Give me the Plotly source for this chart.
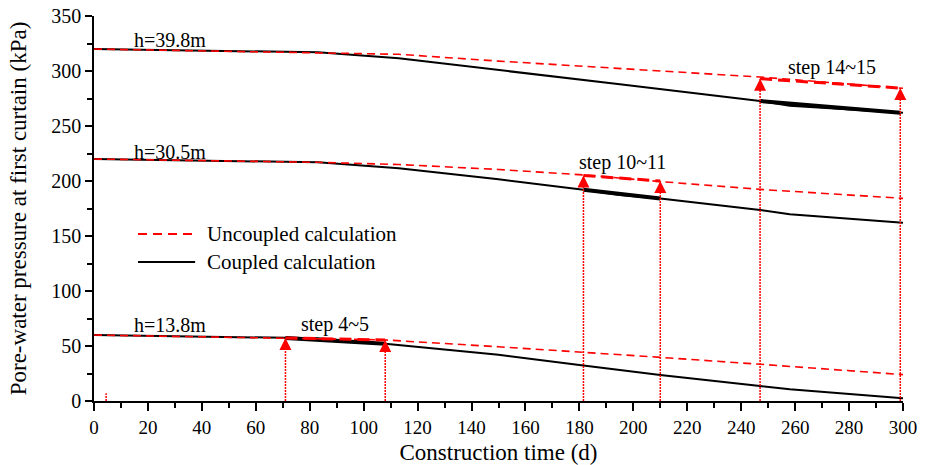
import plotly.graph_objects as go

# ---------------- data ----------------
# h = 39.8 m
t_top_unc = [0, 40, 83, 113, 150, 190, 247, 300]
p_top_unc = [320, 318.5, 317, 315.2, 309, 303.3, 294.5, 284.3]
t_top_cpl = [0, 40, 83, 113, 150, 195, 247, 258, 300]
p_top_cpl = [320, 318.5, 317, 311.5, 301, 288, 272.7, 268.5, 262]

# h = 30.5 m
t_mid_unc = [0, 40, 83, 113, 150, 181.5, 210, 247, 300]
p_mid_unc = [220, 218.5, 217, 215, 210.5, 205.5, 199.5, 192.4, 184.2]
t_mid_cpl = [0, 40, 83, 113, 150, 181.5, 195, 210, 247, 258, 300]
p_mid_cpl = [220, 218.5, 217, 211.5, 201.5, 192, 187.3, 184, 173.6, 169.7, 162]

# h = 13.8 m
t_bot_unc = [0, 40, 71, 83, 108, 150, 180, 210, 247, 300]
p_bot_unc = [60, 58.5, 57.3, 57, 55.5, 49.3, 44.8, 39.7, 33.4, 24]
t_bot_cpl = [0, 40, 71, 83, 108, 150, 180, 195, 210, 247, 258, 300]
p_bot_cpl = [60, 58.5, 57.3, 57, 52, 42, 32.7, 28.2, 23.6, 13.6, 10.6, 2.5]

# highlighted construction steps
step_labels = ["step 4~5", "step 10~11", "step 14~15"]
step_t = [[71, 108], [181.5, 210], [247, 299]]
step_unc = [[57.3, 55.5], [205, 200], [293, 284.5]]
step_cpl = [[57.3, 52], [192, 184], [272.7, 262]]
step_label_t = [89.4, 196, 273.6]
step_label_p = [70, 217, 303]

# small mark near the start
mark_t = [4.5]
mark_p = [7]

# depth labels
h_labels = ["h=39.8m", "h=30.5m", "h=13.8m"]
h_label_t = [28.2, 28.2, 28.2]
h_label_p = [328, 226, 69]

x_ticks = list(range(0, 301, 20))
y_ticks = list(range(0, 351, 50))

RED = "#ff0000"
FONT = "Liberation Serif"

fig = go.Figure()

# coupled (black, solid)
for t, p in [(t_top_cpl, p_top_cpl), (t_mid_cpl, p_mid_cpl), (t_bot_cpl, p_bot_cpl)]:
    fig.add_trace(go.Scatter(x=t, y=p, mode="lines",
                             line=dict(color="black", width=2),
                             showlegend=False, hoverinfo="skip"))
# thick coupled segments
for t, p in zip(step_t, step_cpl):
    fig.add_trace(go.Scatter(x=t, y=p, mode="lines",
                             line=dict(color="black", width=4),
                             showlegend=False, hoverinfo="skip"))
# uncoupled (red, dashed)
for t, p in [(t_top_unc, p_top_unc), (t_mid_unc, p_mid_unc), (t_bot_unc, p_bot_unc)]:
    fig.add_trace(go.Scatter(x=t, y=p, mode="lines",
                             line=dict(color=RED, width=1.6, dash="8px,5px"),
                             showlegend=False, hoverinfo="skip"))
# thick uncoupled segments
for t, p in zip(step_t, step_unc):
    fig.add_trace(go.Scatter(x=t, y=p, mode="lines",
                             line=dict(color=RED, width=3, dash="12px,6px"),
                             showlegend=False, hoverinfo="skip"))

# vertical dotted arrows from the time axis up to the uncoupled curve
for t, p in zip(step_t, step_unc):
    for ti, pi in zip(t, p):
        fig.add_trace(go.Scatter(x=[ti, ti], y=[0, pi], mode="lines",
                                 line=dict(color=RED, width=1.5, dash="2px,1px"),
                                 showlegend=False, hoverinfo="skip",
                                 cliponaxis=False))
    fig.add_trace(go.Scatter(x=t, y=p, mode="markers",
                             marker=dict(symbol="arrow-up", size=12, color=RED,
                                         line=dict(width=0)),
                             showlegend=False, hoverinfo="skip",
                             cliponaxis=False))
for ti, pi in zip(mark_t, mark_p):
    fig.add_trace(go.Scatter(x=[ti, ti], y=[0, pi], mode="lines",
                             line=dict(color=RED, width=1.5, dash="2px,1px"),
                             showlegend=False, hoverinfo="skip"))

annotations = []
for txt, x, y in zip(h_labels, h_label_t, h_label_p):
    annotations.append(dict(x=x, y=y, xref="x", yref="y", text=txt, showarrow=False,
                            font=dict(family=FONT, size=20, color="black")))
for txt, x, y in zip(step_labels, step_label_t, step_label_p):
    annotations.append(dict(x=x, y=y, xref="x", yref="y", text=txt, showarrow=False,
                            font=dict(family=FONT, size=20, color="black")))

# manual legend
leg_x0, leg_x1, leg_tx = 0.0544, 0.122, 0.137
leg_y = [0.4338, 0.3610]
legend_names = ["Uncoupled calculation", "Coupled calculation"]
shapes = [
    dict(type="line", xref="paper", yref="paper", x0=leg_x0, x1=leg_x1,
         y0=leg_y[0], y1=leg_y[0], line=dict(color=RED, width=2, dash="9px,6px")),
    dict(type="line", xref="paper", yref="paper", x0=leg_x0, x1=leg_x1 + 0.003,
         y0=leg_y[1], y1=leg_y[1], line=dict(color="black", width=2)),
]
for name, y in zip(legend_names, leg_y):
    annotations.append(dict(x=leg_tx, y=y, xref="paper", yref="paper", text=name,
                            showarrow=False, xanchor="left", yanchor="middle",
                            font=dict(family=FONT, size=21, color="black")))

axis_common = dict(
    showline=True, linecolor="black", linewidth=1.5,
    ticks="outside", tickcolor="black", tickwidth=1.5,
    showgrid=False, zeroline=False, mirror=False, automargin=False,
)

fig.update_layout(
    width=932, height=465,
    margin=dict(l=94, r=29, t=16, b=64, pad=0),
    paper_bgcolor="white", plot_bgcolor="white",
    showlegend=False,
    xaxis=dict(range=[0, 300], tickvals=x_ticks, ticklen=8,
               tickfont=dict(family=FONT, size=19, color="black"),
               minor=dict(dtick=10, ticks="outside", ticklen=5, tickwidth=1.5, tickcolor="black"),
               title=dict(text="Construction time (d)", standoff=10,
                          font=dict(family=FONT, size=23, color="black")),
               **axis_common),
    yaxis=dict(range=[0, 350], tickvals=y_ticks, ticklen=7,
               tickfont=dict(family=FONT, size=20, color="black"),
               minor=dict(dtick=25, ticks="outside", ticklen=5, tickwidth=1.5, tickcolor="black"),
               title=dict(text="Pore-water pressure at first curtain (kPa)", standoff=18,
                          font=dict(family=FONT, size=23, color="black")),
               **axis_common),
    annotations=annotations,
    shapes=shapes,
)

fig.write_html("out.html")
